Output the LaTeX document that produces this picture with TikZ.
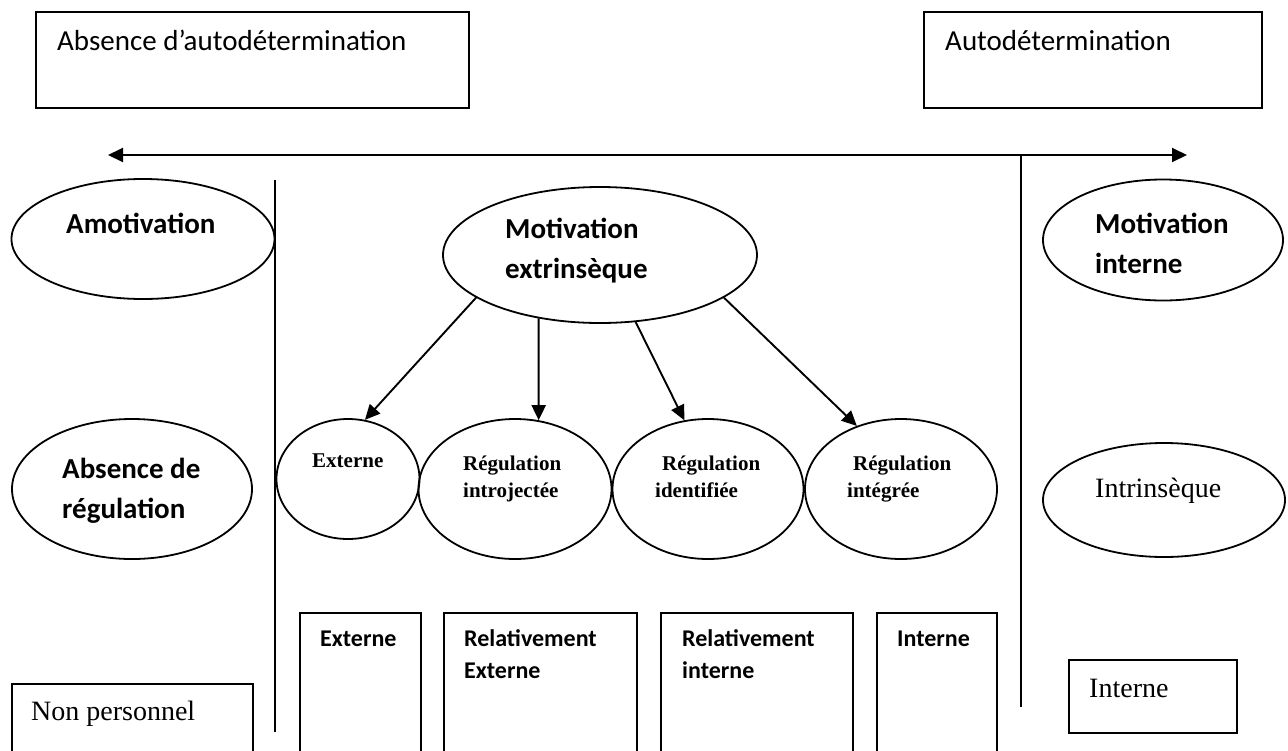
\documentclass[tikz,border=0pt]{standalone}
\usepackage{fontspec}
\setmainfont{Carlito}
\newfontfamily\tnr{Liberation Serif}
\usetikzlibrary{shapes.geometric, arrows.meta}

\begin{document}
\begin{tikzpicture}[x=1pt, y=-1pt]
    % Define the styles
    \tikzstyle{oval} = [ellipse, draw, line width=1.8pt, inner sep=0pt]
    \tikzstyle{panel} = [rectangle, draw, line width=1.8pt, inner sep=0pt, anchor=north west]
    \tikzstyle{txt} = [anchor=base west, inner sep=0pt, align=left]
    \tikzstyle{calr} = [txt, font=\fontsize{29}{40}\selectfont]
    \tikzstyle{calb} = [txt, font=\fontsize{29}{40}\selectfont\bfseries]
    \tikzstyle{boxb} = [txt, font=\fontsize{24}{32}\selectfont\bfseries]
    \tikzstyle{tmsb} = [txt, font=\tnr\fontsize{21}{27}\selectfont\bfseries]
    \tikzstyle{tms} = [txt, font=\tnr\fontsize{28}{34}\selectfont]
    \tikzstyle{line} = [draw, line width=1.9pt, -{Triangle[length=15pt, width=14pt]}]

    \path[use as bounding box, clip] (0,0) rectangle (1288,750);

    % Top boxes and the axis
    \node [panel, minimum width=433pt, minimum height=96pt] (noauto) at (35,11) {};
    \node [panel, minimum width=338pt, minimum height=96pt] (auto) at (923,11) {};
    \node [calr] (noautoT) at (57,50) {Absence d’autodétermination};
    \node [calr] (autoT) at (945,50) {Autodétermination};

    \coordinate (axL) at (108,155);
    \coordinate (axR) at (1187,155);
    \draw [line width=1.9pt, {Triangle[length=15pt, width=14pt]}-{Triangle[length=15pt, width=14pt]}] (axL) -- (axR);

    % Separators
    \coordinate (sepLt) at (275,180);
    \coordinate (sepLb) at (275,732);
    \coordinate (sepRt) at (1021,155);
    \coordinate (sepRb) at (1021,707);
    \draw [line width=1.8pt] (sepLt) -- (sepLb);
    \draw [line width=1.8pt] (sepRt) -- (sepRb);

    % Place the ellipses
    \node [oval, minimum width=263pt, minimum height=120pt] (amot) at (143,239) {};
    \node [oval, minimum width=314pt, minimum height=136pt] (mext) at (600,255) {};
    \node [oval, minimum width=240pt, minimum height=121pt] (mint) at (1163,240) {};
    \node [oval, minimum width=240pt, minimum height=140pt] (absreg) at (132,489) {};
    \node [oval, minimum width=143pt, minimum height=120pt] (ext) at (348,479) {};
    \node [oval, minimum width=193pt, minimum height=140pt] (intro) at (515,489) {};
    \node [oval, minimum width=191pt, minimum height=140pt] (ident) at (708,489) {};
    \node [oval, minimum width=192pt, minimum height=140pt] (integ) at (901,489) {};
    \node [oval, minimum width=242pt, minimum height=114pt] (intr) at (1164,500) {};

    % Texts (multi-line ones sit on their last line)
    \node [calb] (amotT) at (66,233) {Amotivation};
    \node [calb] (mextT) at (505,278) {Motivation\\extrinsèque};
    \node [calb] (mintT) at (1095,273) {Motivation\\interne};
    \node [calb] (absregT) at (62,518) {Absence de\\régulation};
    \node [tmsb] (extT) at (312,467) {Externe};
    \node [tmsb] (introT) at (463,497) {Régulation\\introjectée};
    \node [tmsb] (identT) at (655,497) {\hspace*{7pt}Régulation\\identifiée};
    \node [tmsb] (integT) at (847,497) {\hspace*{6pt}Régulation\\intégrée};
    \node [tms] (intrT) at (1095,497) {Intrinsèque};

    % Bottom boxes
    \node [panel, minimum width=241pt, minimum height=100pt] (nonpers) at (11,683) {};
    \node [panel, minimum width=121pt, minimum height=170pt] (bext) at (299,612) {};
    \node [panel, minimum width=193pt, minimum height=170pt] (brelext) at (443,612) {};
    \node [panel, minimum width=192pt, minimum height=170pt] (brelint) at (660,612) {};
    \node [panel, minimum width=120pt, minimum height=170pt] (bint) at (876,612) {};
    \node [panel, minimum width=168pt, minimum height=73pt] (intbox) at (1068,659) {};

    \node [tms] (nonpersT) at (31,720) {Non personnel};
    \node [boxb] (bextT) at (320,646) {Externe};
    \node [boxb] (brelextT) at (464,678) {Relativement\\Externe};
    \node [boxb] (brelintT) at (682,678) {Relativement\\interne};
    \node [boxb] (bintT) at (897,646) {Interne};
    \node [tms] (intboxT) at (1089,697) {Interne};

    % Connect the ellipses
    \path [line] (mext.199) -- (ext.74);
    \path [line] (mext.226) -- (intro.71);
    \path [line] (mext.298) -- (ident.109);
    \path [line] (mext.341) -- (integ.125);

\end{tikzpicture}
\end{document}
